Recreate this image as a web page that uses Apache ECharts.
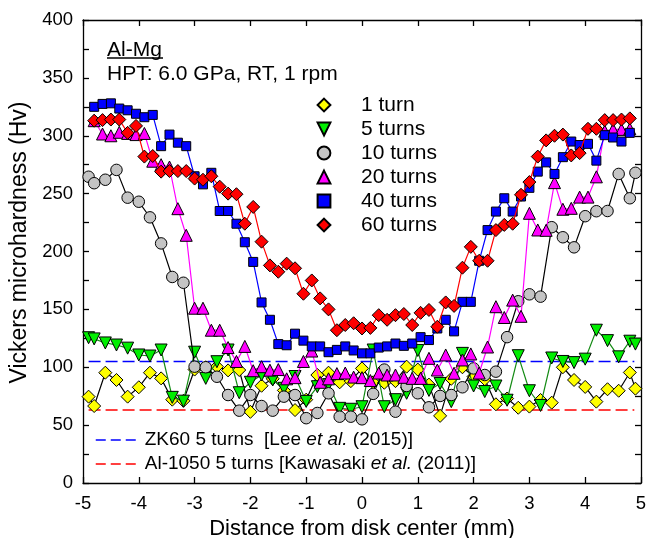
<!DOCTYPE html>
<html><head><meta charset="utf-8">
<script src="https://cdn.jsdelivr.net/npm/echarts@6/dist/echarts.min.js"></script>
<style>html,body{margin:0;padding:0;background:#fff}#c{width:647px;height:538px}</style>
</head><body><div id="c"></div>
<script>
// positions (mm) of the indentations
const xFine = [-4.8,-4.65,-4.5,-4.35,-4.2,-4.05,-3.9,-3.75,-3.6,-3.45,-3.3,-3.15,
  -3,-2.85,-2.7,-2.55,-2.4,-2.25,-2.1,-1.95,-1.8,-1.65,-1.5,-1.35,
  -1.2,-1.05,-0.9,-0.75,-0.6,-0.45,-0.3,-0.15,0,0.15,0.3,0.45,
  0.6,0.75,0.9,1.05,1.2,1.35,1.5,1.65,1.8,1.95,2.1,2.25,
  2.4,2.55,2.7,2.85,3,3.15,3.3,3.45,3.6,3.75,3.9,4.05,
  4.2,4.35,4.5,4.65,4.8];
const xCoarse = [-4.9,-4.8,-4.6,-4.4,-4.2,-4,-3.8,-3.6,-3.4,-3.2,-3,-2.8,-2.6,-2.4,-2.2,-2,-1.8,-1.6,-1.4,-1.2,
  -1,-0.8,-0.6,-0.4,-0.2,0,0.2,0.4,0.6,0.8,1,1.2,1.4,1.6,1.8,2,2.2,2.4,2.6,2.8,
  3,3.2,3.4,3.6,3.8,4,4.2,4.4,4.6,4.8,4.9];

// Vickers microhardness values (Hv)
const hv1 = [74.6,66.5,95.3,89,74.6,82.7,95.3,90.4,72,71,98,100,100.5,97.3,97.6,61.5,84,90,80,63,
  72,93.3,95.3,87,88,99,87,86.6,88,100.5,98,85,58,90,100,92,89.6,68,73,65,
  66,71.7,69.4,100,89,83,70.3,81,79.7,95.5,81.5];
const hv5 = [125.5,124.5,121,119.2,116.5,110.6,109.7,114.9,74,70.7,113,90.4,104.8,114.9,78,87,93.3,89,81.8,92,
  70.5,83.2,85,64.5,63.7,65.9,114.9,65.9,72,77.5,114.5,80,86,70.3,112,83.8,79,83.8,71.5,110,
  79.7,67,108,105,104,107,132,123,109,122.5,120];
const hv10 = [264.6,259,262,270.5,246.5,243,229.5,207,178,173,100.5,100,91.8,76,62.5,76,66.5,62.5,74.6,76,
  56,60.5,77.5,57.3,57.3,55,77,98,61.6,83.8,77.5,65.4,75.2,76,82.7,99,93.3,96.2,126,157,
  163,161,221,212.3,203.6,230.5,234.8,235,267,246,268];
const hv20 = [313,301.5,300,303,302,301,302,278,275,273,237,214,
  151,151,132,132,117,105,118,97,100.5,97.5,98,90,
  91,105,114,87,90,94.5,95,91.5,91,88.5,95,93.3,
  93.3,91.3,90.4,90.4,107.7,97.6,110.6,94.8,106.3,111.5,95,117.5,
  152.3,143,158,144,233,218.6,218.3,259.5,236.5,237.3,247,247,
  264.5,304,305.5,305.5,306];
const hv40 = [325,327.5,328,323.5,322,319,316,318,291,301,294,291,
  265,258,268,235,235,224,208,191,156,141,120,119,
  129,123,118,118,113,115,118,114.5,112,112,117,118,
  120.5,118.5,120.5,126,123.5,133.5,141,131,156.5,156.5,192,218.5,
  234.5,246,234.5,247.5,255,269,277,267,281.5,295,292,293,
  278.5,300.5,298.5,295,302.5];
const hv60 = [313,313.5,314,314,302.5,308.5,282,282.5,269,269.5,269.5,269.5,
  263,262,265,256,250,249.5,224,238.5,208.5,188,182.5,189.5,
  185.5,163.5,175,159.5,150,132,136.5,138,133.5,134,145,141,
  145,146,136.5,147,149.5,135,156,153,186,204,192,192,
  218.5,223,224,249,260,282,296,300,301,283,285,306,
  306,313.5,313.5,314,315];

// reference levels (Hv) and their extent (mm)
const refZK60 = 105;
const refAl1050 = 63;
const refSpan = [-4.9, 4.88];

const seriesNames = ['1 turn','5 turns','10 turns','20 turns','40 turns','60 turns'];
const refNames = ['ZK60 5 turns [Lee et al. (2015)]','Al-1050 5 turns [Kawasaki et al. (2011)]'];
const titleLine1 = 'Al-Mg';
const titleLine2 = 'HPT: 6.0 GPa, RT, 1 rpm';
const xTitle = 'Distance from disk center (mm)';
const yTitle = 'Vickers microhardness (Hv)';

const FF = "'Liberation Sans', Arial, Helvetica, sans-serif";
const pairs = (xs, ys) => xs.map((x, i) => [x, ys[i]]);

const looks = [
  {xs: xCoarse, ys: hv1,  symbol: 'diamond',  size: 13, rot: 0,   fill: '#ffff00', line: '#000000'},
  {xs: xCoarse, ys: hv5,  symbol: 'triangle', size: 12, rot: 180, fill: '#00ee00', line: '#138a13'},
  {xs: xCoarse, ys: hv10, symbol: 'circle',   size: 11.5, rot: 0, fill: '#c4c4c4', line: '#000000'},
  {xs: xFine,   ys: hv20, symbol: 'triangle', size: 12, rot: 0,   fill: '#ff00ff', line: '#ff00ff'},
  {xs: xFine,   ys: hv40, symbol: 'rect',     size: 9, rot: 0,    fill: '#0000ff', line: '#0000ff'},
  {xs: xFine,   ys: hv60, symbol: 'diamond',  size: 13, rot: 0,   fill: '#ff0000', line: '#ff0000'}
];

const series = [
  {name: refNames[0], type: 'line', data: [[refSpan[0], refZK60], [refSpan[1], refZK60]], symbol: 'none', z: 1,
   lineStyle: {color: '#0000ff', width: 1.5, type: [12, 5]}, itemStyle: {color: '#0000ff'}, silent: true},
  {name: refNames[1], type: 'line', data: [[refSpan[0], refAl1050], [refSpan[1], refAl1050]], symbol: 'none', z: 1,
   lineStyle: {color: '#ff0000', width: 1.5, type: [12, 5]}, itemStyle: {color: '#ff0000'}, silent: true}
];
looks.forEach((s, i) => {
  series.push({
    name: seriesNames[i], type: 'line', data: pairs(s.xs, s.ys),
    symbol: s.symbol, symbolSize: s.size, symbolRotate: s.rot, showAllSymbol: true,
    z: 2 + i,
    lineStyle: {color: s.line, width: 1.2},
    itemStyle: {color: s.fill, borderColor: '#000', borderWidth: 1}
  });
});

const axisCommon = {
  axisLine: {show: true, onZero: false, lineStyle: {color: '#000', width: 1.3}},
  axisTick: {show: true, inside: true, length: 6, lineStyle: {color: '#000', width: 1.3}},
  splitLine: {show: false}
};

const chart = echarts.init(document.getElementById('c'), null, {renderer: 'canvas'});
chart.setOption({
  animation: false,
  backgroundColor: '#fff',
  grid: {left: 83, right: 6, top: 20, bottom: 55, containLabel: false, outerBoundsMode: 'none'},
  xAxis: [
    Object.assign({type: 'value', min: -5, max: 5, interval: 1, position: 'bottom',
      axisLabel: {fontSize: 18.5, color: '#000', margin: 11, fontFamily: FF},
      name: xTitle, nameLocation: 'middle', nameGap: 34,
      nameTextStyle: {fontSize: 22, color: '#000', fontFamily: FF}}, axisCommon),
    Object.assign({type: 'value', min: -5, max: 5, interval: 1, position: 'top',
      axisLabel: {show: false}}, axisCommon)
  ],
  yAxis: [
    Object.assign({type: 'value', min: 0, max: 400, interval: 25, position: 'left',
      axisLabel: {fontSize: 18.5, color: '#000', margin: 10, fontFamily: FF,
        formatter: v => (v % 50 === 0 ? String(v) : '')},
      name: yTitle, nameLocation: 'middle', nameGap: 48,
      nameTextStyle: {fontSize: 23, color: '#000', fontFamily: FF, padding: [0, 0, 0, 18]}}, axisCommon),
    Object.assign({type: 'value', min: 0, max: 400, interval: 25, position: 'right',
      axisLabel: {show: false}}, axisCommon)
  ],
  legend: [
    {data: seriesNames, orient: 'vertical', left: 292, top: 93, padding: 0, itemWidth: 64, itemHeight: 16, itemGap: 0,
     selectedMode: false,
     textStyle: {fontSize: 21, lineHeight: 24, color: '#000', fontFamily: FF},
     lineStyle: {width: 0, opacity: 0}},
    {data: refNames, orient: 'vertical', left: 95, top: 428, padding: 0, itemWidth: 44, itemHeight: 14, itemGap: 0,
     selectedMode: false,
     itemStyle: {opacity: 0},
     lineStyle: {width: 1.5, type: [10, 5]},
     formatter: function (name) {
       if (name === refNames[0]) return 'ZK60 5 turns  [Lee {i|et al.} (2015)]';
       return 'Al-1050 5 turns [Kawasaki {i|et al.} (2011)]';
     },
     textStyle: {fontSize: 19, lineHeight: 24, color: '#000', fontFamily: FF,
       rich: {i: {fontStyle: 'italic', fontSize: 19, color: '#000', fontFamily: FF}}}}
  ],
  graphic: [
    {type: 'text', x: 107, y: 50, style: {text: titleLine1, font: "21px " + FF, fill: '#000', align: 'left', verticalAlign: 'middle'}},
    {type: 'line', shape: {x1: 107, y1: 58, x2: 163, y2: 58}, style: {stroke: '#000', lineWidth: 1.3}},
    {type: 'text', x: 107, y: 74.5, style: {text: titleLine2, font: "21px " + FF, fill: '#000', align: 'left', verticalAlign: 'middle'}}
  ],
  series: series
});
</script>
</body></html>
